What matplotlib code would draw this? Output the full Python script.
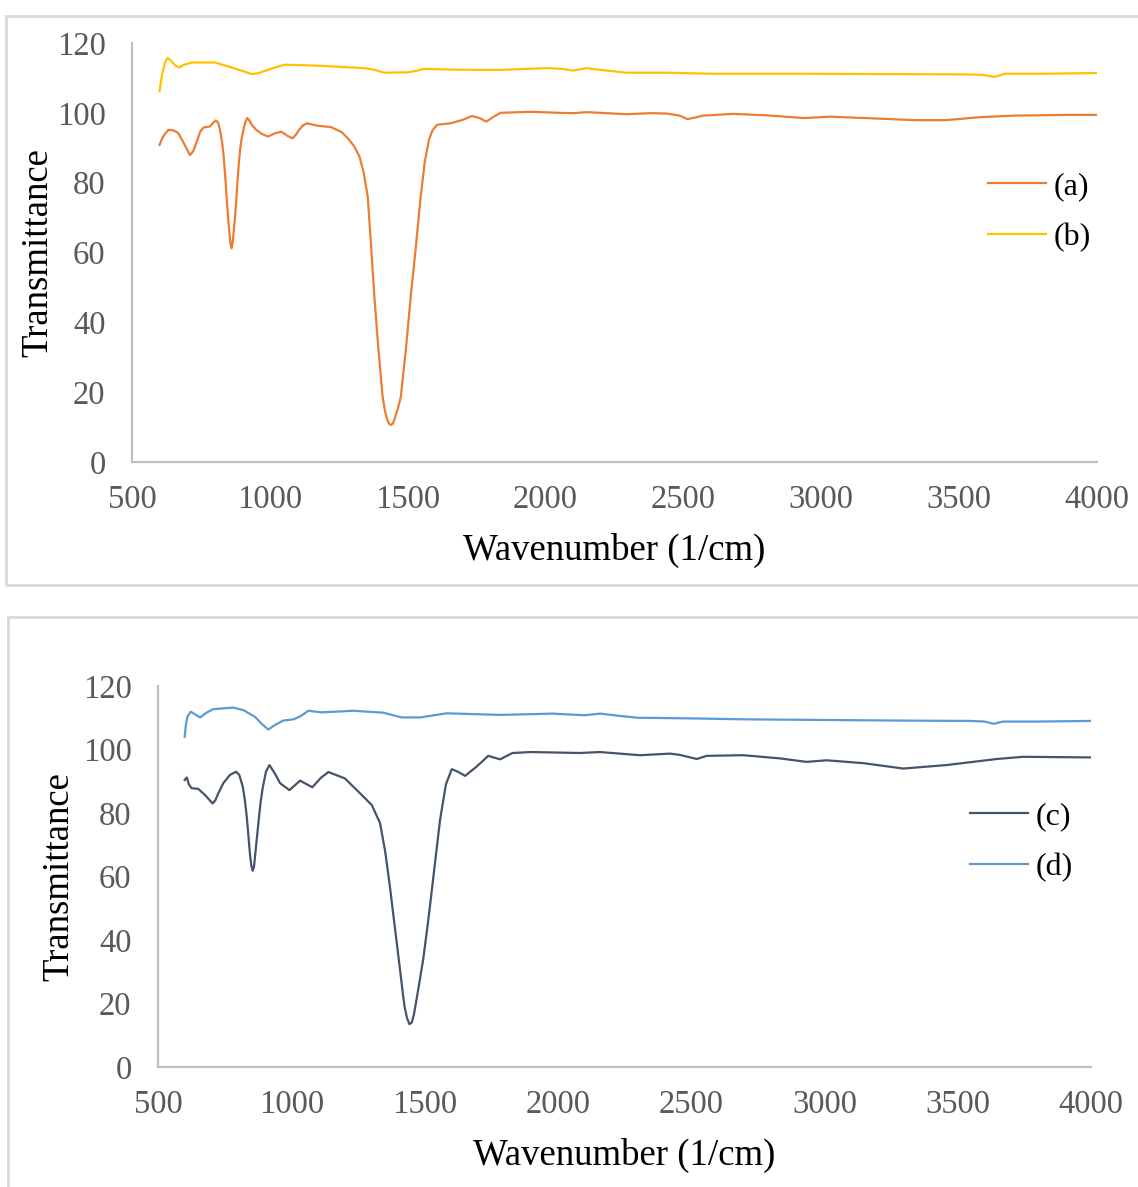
import matplotlib
matplotlib.use("Agg")
import matplotlib.pyplot as plt
from matplotlib.patches import Rectangle

plt.rcParams['font.family'] = ['Liberation Serif', 'DejaVu Serif']

# --- spectrum (a) ---
a_wn = [600, 610, 618, 632, 650, 668, 690, 710, 722, 735, 747, 759, 783, 795, 804, 812, 819, 826,
        832, 838, 843, 848, 853, 857, 861, 865, 869, 874, 879, 884, 889, 893, 897, 905, 912, 918,
        926, 935, 951, 970, 993, 1020, 1042, 1062, 1082, 1095, 1105, 1120, 1135, 1174, 1222, 1260,
        1283, 1305, 1325, 1340, 1355, 1367, 1379, 1394, 1409, 1418, 1425, 1432, 1439, 1446,
        1451, 1457, 1466, 1475, 1493, 1511, 1530, 1547, 1562, 1577, 1590, 1607, 1630, 1655,
        1700, 1733, 1760, 1785, 1810, 1836, 1945, 2050, 2101, 2149, 2198, 2294, 2379, 2439,
        2487, 2514, 2540, 2571, 2679, 2800, 2938, 3029, 3161, 3342, 3450, 3583, 3703, 3884, 4000]
a_tr = [90.8, 92.8, 93.8, 95.1, 95.0, 94.2, 91.0, 87.9, 89.0, 91.8, 94.5, 95.8, 96.1, 97.2, 97.8,
        97.3, 95.1, 92.0, 88.0, 82.0, 76.0, 70.5, 66.0, 62.8, 61.2, 62.8, 66.0, 70.5, 76.0, 82.0,
        87.0, 90.0, 92.3, 95.5, 97.5, 98.5, 97.8, 96.5, 95.1, 94.0, 93.2, 94.2, 94.6, 93.5, 92.7,
        93.8, 95.0, 96.4, 97.0, 96.3, 95.9, 94.5, 92.7, 90.5, 87.5, 83.0, 76.0, 62.0, 47.4, 32.0,
        18.7, 14.5, 12.3, 11.0, 10.6, 11.0, 12.0, 13.5, 15.8, 18.7, 32.0, 47.4, 62.0, 76.0, 86.0,
        92.3, 95.0, 96.6, 96.8, 97.0, 98.0, 99.1, 98.5, 97.5, 98.8, 100.0, 100.3, 100.0, 99.9,
        100.2, 100.0, 99.6, 99.9, 99.8, 99.2, 98.2, 98.6, 99.2, 99.7, 99.3, 98.5, 98.9, 98.5,
        97.9, 97.9, 98.8, 99.2, 99.4, 99.4]

# --- spectrum (b) ---
b_wn = [600, 606, 612, 620, 629, 636, 644, 656, 671, 690, 717, 801, 849, 900, 934, 955, 982,
        1020, 1054, 1174, 1343, 1380, 1415, 1499, 1530, 1560, 1650, 1764, 1836, 2005, 2060, 2101,
        2149, 2198, 2294, 2439, 2595, 2920, 3523, 3583, 3628, 3667, 3800, 4000]
b_tr = [106.2, 109.5, 112.0, 114.5, 115.7, 115.3, 114.7, 113.6, 113.0, 113.8, 114.4, 114.4,
        113.3, 112.0, 111.1, 111.3, 112.0, 113.0, 113.8, 113.5, 112.8, 112.3, 111.5, 111.6,
        112.0, 112.6, 112.4, 112.3, 112.3, 112.8, 112.6, 112.1, 112.8, 112.3, 111.5, 111.5,
        111.2, 111.2, 111.0, 110.9, 110.3, 111.2, 111.2, 111.4]

# --- spectrum (c) ---
c_wn = [600, 608, 616, 626, 651, 676, 705, 715, 725, 745, 770, 793, 805, 818, 826, 833, 840,
        845, 850, 855, 860, 866, 872, 878, 885, 893, 905, 918, 938, 958, 993, 1033, 1079, 1110,
        1139, 1201, 1258, 1302, 1333, 1352, 1370, 1390, 1408, 1418, 1425, 1434, 1443, 1452,
        1460, 1476, 1495, 1514, 1536, 1558, 1580, 1602, 1625, 1652, 1695, 1739, 1783, 1830,
        1900, 2083, 2158, 2308, 2421, 2458, 2521, 2558, 2696, 2833, 2933, 3008, 3146, 3296,
        3458, 3646, 3746, 4000]
c_tr = [90.4, 91.2, 89.0, 87.8, 87.6, 85.7, 83.0, 84.0, 86.0, 89.4, 92.0, 93.0, 92.0, 88.3, 84.0,
        78.8, 72.0, 67.0, 63.5, 61.8, 63.0, 68.0, 73.0, 78.0, 83.5, 88.0, 93.0, 95.1, 92.5, 89.4,
        87.2, 90.2, 88.1, 91.0, 92.9, 90.9, 86.2, 82.5, 76.8, 68.0, 56.8, 43.0, 30.6, 23.5, 19.0,
        15.5, 13.5, 14.0, 16.5, 24.3, 34.0, 46.3, 62.0, 77.8, 89.0, 93.8, 93.0, 91.7, 94.6, 98.0,
        96.9, 98.9, 99.2, 98.9, 99.2, 98.2, 98.7, 98.3, 97.0, 98.0, 98.2, 97.2, 96.1, 96.6, 95.7,
        94.0, 95.1, 97.0, 97.7, 97.5]

# --- spectrum (d) ---
d_wn = [600, 605, 610, 623, 640, 658, 680, 707, 782, 820, 864, 890, 914, 940, 970, 1008, 1035,
        1064, 1114, 1233, 1345, 1414, 1483, 1583, 1783, 1980, 2050, 2100, 2160, 2230, 2300, 2500,
        2700, 3000, 3300, 3550, 3600, 3635, 3670, 3800, 4000]
d_tr = [104.0, 108.0, 110.3, 111.9, 111.0, 110.1, 111.5, 112.7, 113.2, 112.4, 110.3, 108.0,
        106.3, 107.8, 109.1, 109.5, 110.5, 112.2, 111.7, 112.2, 111.6, 110.1, 110.1, 111.4,
        110.9, 111.3, 111.0, 110.8, 111.3, 110.6, 110.0, 109.8, 109.5, 109.3, 109.1, 109.0,
        108.8, 108.1, 108.8, 108.8, 109.0]

x_ticks = [500, 1000, 1500, 2000, 2500, 3000, 3500, 4000]
y_ticks = [0, 20, 40, 60, 80, 100, 120]

W, H = 1138, 1187


def style_axes(ax):
    ax.set_xlim(500, 4000)
    ax.set_ylim(0, 120)
    ax.set_xticks(x_ticks)
    ax.set_yticks(y_ticks)
    for side in ['top', 'right']:
        ax.spines[side].set_visible(False)
    for side in ['left', 'bottom']:
        ax.spines[side].set_color('#BFBFBF')
        ax.spines[side].set_linewidth(1.6)
    ax.tick_params(length=0, labelsize=23.5, labelcolor='#595959')
    ax.tick_params(axis='y', pad=19)
    ax.tick_params(axis='x', pad=16)
    ax.set_xlabel('Wavenumber (1/cm)', fontsize=26.5, labelpad=13)
    ax.set_ylabel('Transmittance', fontsize=26.5)


fig = plt.figure(figsize=(W / 100, H / 100), dpi=100)

# chart frames
fig.add_artist(Rectangle((6 / W, 1 - 585 / H), 1.2, (585 - 16) / H, transform=fig.transFigure,
                         fill=False, edgecolor='#D9D9D9', linewidth=2))
fig.add_artist(Rectangle((8 / W, -0.2), 1.2, 0.2 + (1187 - 617) / H, transform=fig.transFigure,
                         fill=False, edgecolor='#D9D9D9', linewidth=2))

ax1 = fig.add_axes([132 / W, 1 - 462 / H, (1097 - 132) / W, (462 - 43) / H])
ax1.plot(a_wn, a_tr, color='#ED7D31', linewidth=1.6, label='(a)')
ax1.plot(b_wn, b_tr, color='#FFC000', linewidth=1.6, label='(b)')
style_axes(ax1)
ax1.yaxis.set_label_coords(-0.079, 0.5)
ax1.legend(loc='center left', bbox_to_anchor=(988 / W, 1 - 212 / H), bbox_transform=fig.transFigure,
           frameon=False, fontsize=23, handlelength=1.8, handletextpad=0.25, labelspacing=0.7,
           borderpad=0, borderaxespad=0)

ax2 = fig.add_axes([158 / W, 1 - 1067 / H, (1091 - 158) / W, (1067 - 686) / H])
ax2.plot(c_wn, c_tr, color='#44546A', linewidth=1.6, label='(c)')
ax2.plot(d_wn, d_tr, color='#5B9BD5', linewidth=1.6, label='(d)')
style_axes(ax2)
ax2.yaxis.set_label_coords(-0.087, 0.5)
ax2.legend(loc='center left', bbox_to_anchor=(970 / W, 1 - 842 / H), bbox_transform=fig.transFigure,
           frameon=False, fontsize=23, handlelength=1.8, handletextpad=0.25, labelspacing=0.7,
           borderpad=0, borderaxespad=0)

fig.savefig('out.png', dpi=100)
